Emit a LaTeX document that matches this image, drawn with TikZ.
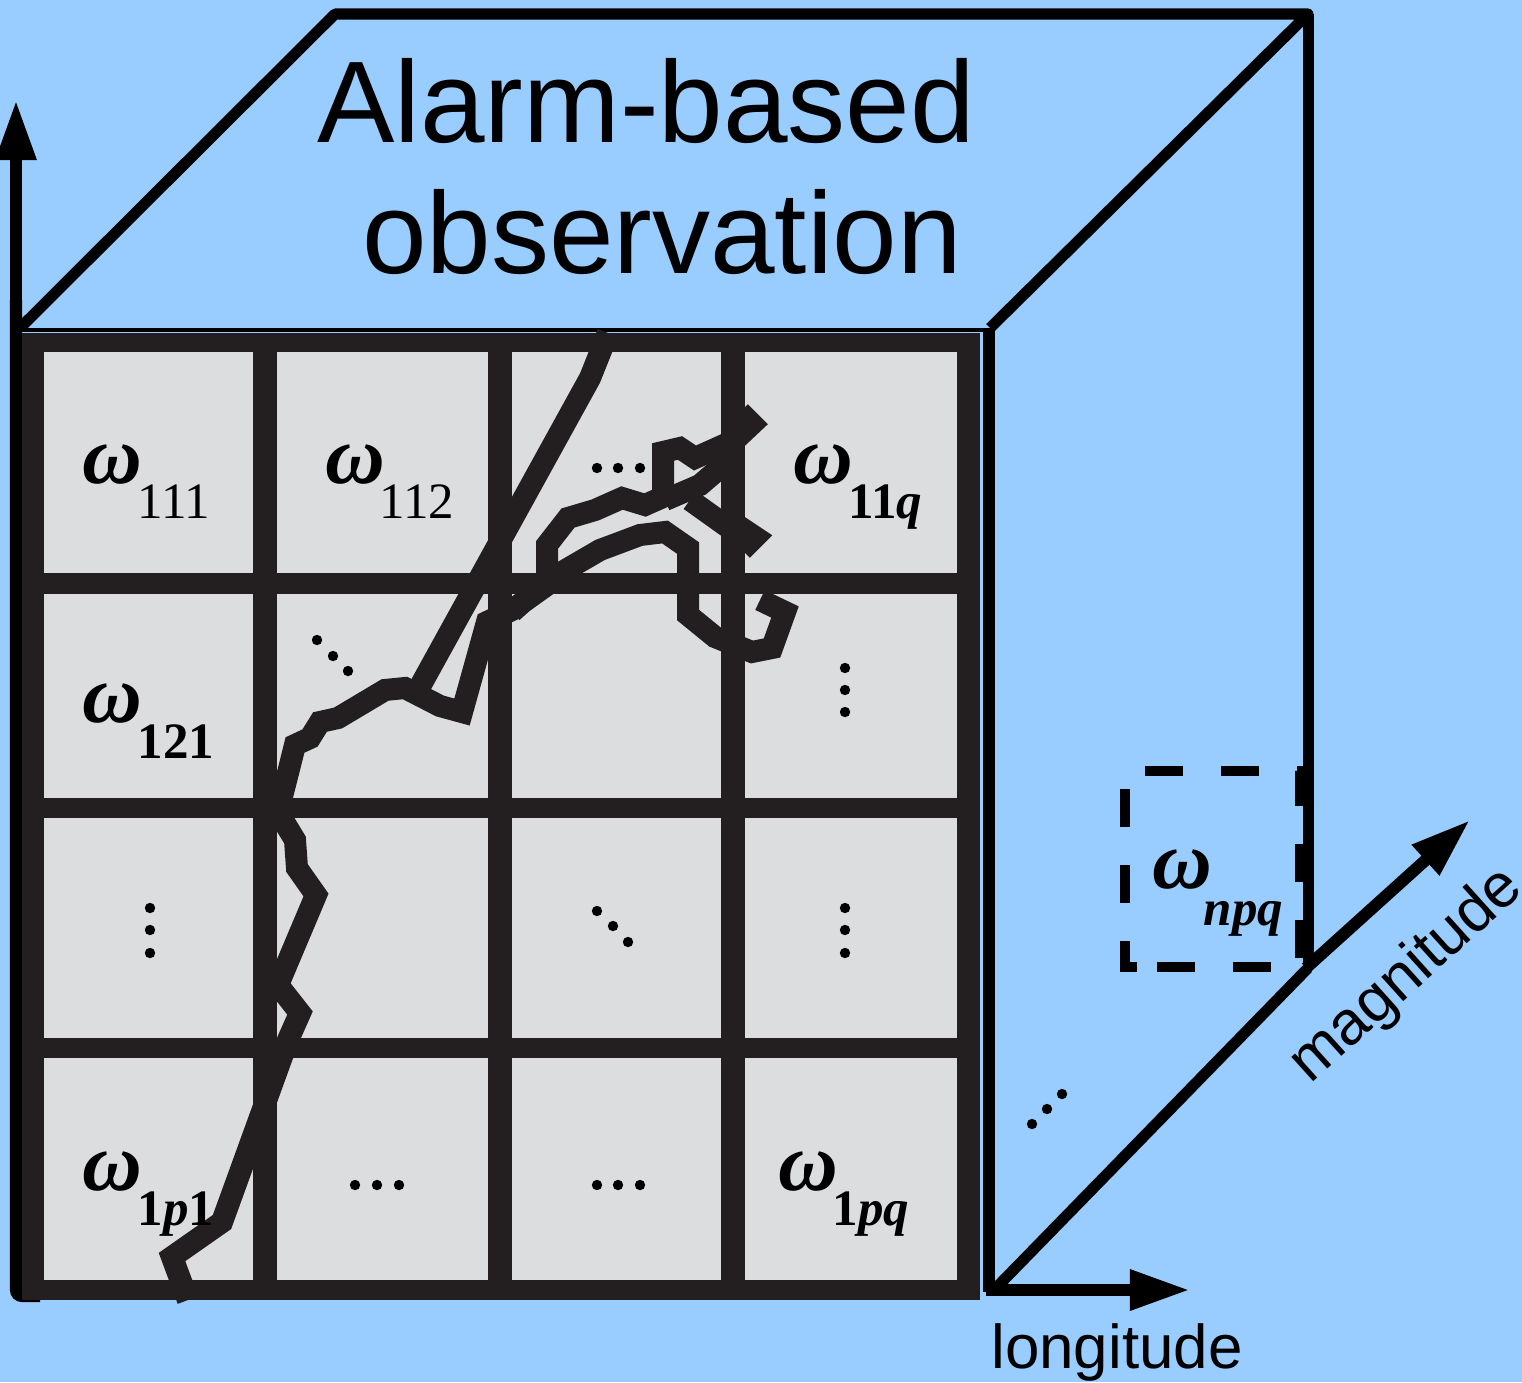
\documentclass[tikz,border=0pt]{standalone}
\usepackage{fontspec}
\setmainfont{Liberation Sans}
\newfontfamily\tnr{Liberation Serif}
\usetikzlibrary{arrows.meta}
\definecolor{bg}{HTML}{99CCFF}
\definecolor{gridc}{HTML}{231F20}
\definecolor{cellc}{HTML}{DCDDDF}
\begin{document}
\begin{tikzpicture}[x=0.01cm,y=-0.01cm,
  cube/.style={line width=0.11cm, line join=round, black},
  axisline/.style={line width=0.12cm, black, -{Triangle[length=0.6cm,width=0.38cm]}},
  track/.style={line width=0.22cm, gridc, line join=miter, miter limit=2.5},
  om/.style={anchor=base west, inner sep=0, font=\tnr\bfseries\itshape\fontsize{23.5}{23.5}\selectfont},
  sub/.style={anchor=base west, inner sep=0, font=\tnr\fontsize{14.5}{14.5}\selectfont},
  bsub/.style={anchor=base west, inner sep=0, font=\tnr\bfseries\fontsize{14.5}{14.5}\selectfont},
  dot/.style={black},
  bigtxt/.style={anchor=base, inner sep=0, font=\fontsize{33}{33}\selectfont},
  axtxt/.style={anchor=base, inner sep=0, font=\fontsize{17.6}{17.6}\selectfont}]
\fill[bg] (0,0) rectangle (1522,1382);
\useasboundingbox (0,0) rectangle (1522,1382);
% cube
\draw[cube] (20,328) -- (335,14) -- (1308,14) -- (990,328);
\draw[line width=0.04cm] (20,330) -- (990,330);
\draw[cube] (1308,14) -- (1308,968);
\draw[line width=0.12cm] (989,328) -- (989,1292);
\draw[cube] (992,1292) -- (1308,968);
% axes
\coordinate (o) at (16,1296);
\coordinate (ytip) at (16,100);
\coordinate (xo) at (986,1290);
\coordinate (xtip) at (1190,1290);
\coordinate (zo) at (1306,968);
\coordinate (ztip) at (1470,820);
\draw[line width=0.12cm, rounded corners=0.06cm] (40,1296) -- (o) -- (16,300);
\draw[axisline] (16,320) -- (ytip);
\draw[axisline] (xo) -- (xtip);
\draw[axisline] (zo) -- (ztip);
% grid
\fill[gridc] (22,333) rectangle (980,1300);
\foreach \xa/\xb in {44/253,277/488,512/721,745/957}
  \foreach \ya/\yb in {352/573,594/798,818/1038,1058/1280}
    \fill[cellc] (\xa,\ya) rectangle (\xb,\yb);
% trajectory
\draw[track] (188,1300) -- (172,1257) -- (222,1222) -- (288,1040) -- (300,1013) -- (278,985) -- (316,895) -- (297,868) -- (295,840) -- (278,812) -- (290,765) -- (295,745) -- (310,738) -- (320,722) -- (338,718) -- (385,690) -- (405,688) -- (440,706) -- (462,712) -- (487,622) -- (512,610) -- (547,585) -- (547,545) -- (568,518) -- (595,510) -- (622,498) -- (645,505) -- (663,497) -- (663,452) -- (680,448) -- (695,458) -- (735,440) -- (752,424) -- (740,412);
\draw[track] (608,333) -- (590,378) -- (418,690);
\draw[track] (512,612) -- (545,582) -- (600,550) -- (640,535) -- (665,532) -- (688,548) -- (688,615) -- (715,637) -- (752,652) -- (772,648) -- (785,612) -- (760,600);
\draw[track] (665,500) -- (700,485) -- (735,455);
\draw[track] (690,500) -- (725,525) -- (740,527) -- (755,537) -- (742,550);
% title
\node[bigtxt] (t1) at (646,143) {Alarm-based};
\node[bigtxt] (t2) at (662,273) {observation};
% labels
\node[om] (w111) at (82,483) {ω};  \node[sub] (s111) at (137,518) {111};
\node[om] (w112) at (325,483) {ω}; \node[sub] (s112) at (379,518) {112};
\node[om] (w11q) at (793,483) {ω}; \node[bsub] (s11q) at (848,518) {11\textit{q}};
\node[om] (w121) at (82,722) {ω};  \node[bsub] (s121) at (137,758) {121};
\node[om] (w1p1) at (82,1190) {ω}; \node[bsub] (s1p1) at (137,1225) {1\textit{p}1};
\node[om] (w1pq) at (778,1190) {ω}; \node[bsub] (s1pq) at (832,1225) {1\textit{pq}};
\node[om] (wnpq) at (1152,888) {ω}; \node[bsub] (snpq) at (1203,925) {\textit{npq}};
% dots
\foreach \p in {(597,468),(618,468),(640,468),
                (317,640),(333,656),(348,671),
                (845,668),(845,690),(845,712),
                (150,908),(150,930),(150,953),
                (597,911),(613,926),(628,942),
                (845,908),(845,930),(845,953),
                (355,1185),(377,1185),(399,1185),
                (597,1185),(618,1185),(640,1185),
                (1032,1124),(1047,1109),(1062,1094)}
  \fill[dot] \p circle (5.2);
% dashed box
\draw[line width=0.1cm, dash pattern=on 0.38cm off 0.38cm] (1137,967) -- (1125,967) -- (1125,771) -- (1300,771) -- (1300,967) -- (1137,967);
% axis labels
\node[axtxt] (lon) at (1117,1368) {longitude};
\node[axtxt, rotate=42] (mag) at (1418,988) {magnitude};
\end{tikzpicture}
\end{document}
